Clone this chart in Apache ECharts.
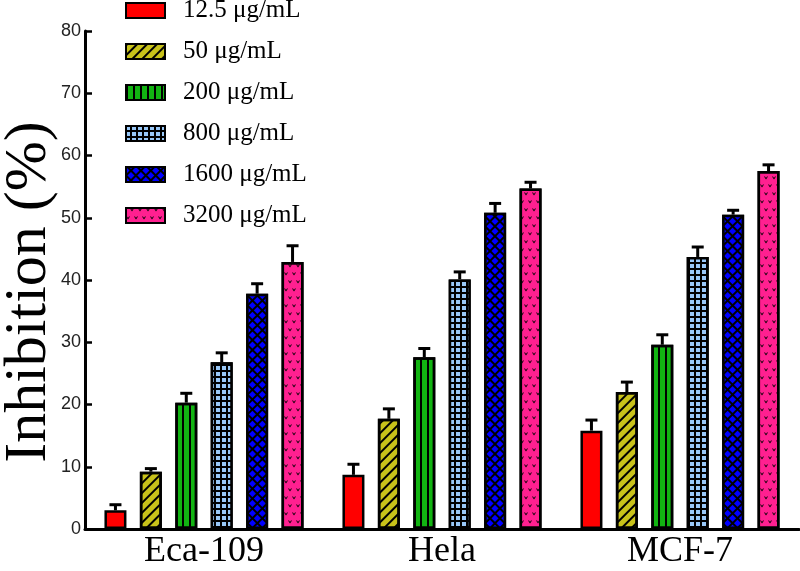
<!DOCTYPE html>
<html>
<head>
<meta charset="utf-8">
<script src="https://cdn.jsdelivr.net/npm/echarts@6/dist/echarts.min.js"></script>
<style>html,body{margin:0;padding:0;background:#fff}#c{width:800px;height:571px}</style>
</head>
<body>
<div id="c"></div>
<script>
// ---- data ----
const categories = ['Eca-109', 'Hela', 'MCF-7'];
const seriesNames = ['12.5 μg/mL', '50 μg/mL', '200 μg/mL', '800 μg/mL', '1600 μg/mL', '3200 μg/mL'];
const v12_5 = [3.0, 8.7, 15.8];
const v50 = [9.2, 17.7, 22.0];
const v200 = [20.3, 27.6, 29.6];
const v800 = [26.8, 40.1, 43.7];
const v1600 = [37.8, 50.8, 50.5];
const v3200 = [42.9, 54.7, 57.5];
const e12_5 = [0.9, 1.7, 1.7];
const e50 = [0.5, 1.6, 1.6];
const e200 = [1.5, 1.4, 1.6];
const e800 = [1.5, 1.2, 1.6];
const e1600 = [1.6, 1.5, 0.7];
const e3200 = [2.6, 1.0, 1.0];
const yTicks = [0, 10, 20, 30, 40, 50, 60, 70, 80];

const values = [v12_5, v50, v200, v800, v1600, v3200];
const errors = [e12_5, e50, e200, e800, e1600, e3200];

// ---- styles ----
const BAR_W = 22;
const GAP_RATIO = 0.61;
const styles = [
  { color: '#ff0000' },
  { color: '#c8c21a', decal: { color: '#000', symbol: 'rect', dashArrayX: [1, 0], dashArrayY: [2, 5], rotation: -Math.PI / 4 } },
  { color: '#12b412', decal: { color: '#000', symbol: 'rect', dashArrayX: [2, 5], dashArrayY: [5, 0] } },
  { color: '#000000', decal: { color: '#99c8f8', symbol: 'rect', dashArrayX: [4, 1.6], dashArrayY: [4, 1.6] } },
  { color: '#000000', decal: { color: '#0000ff', symbol: 'rect', dashArrayX: [4.6, 1.3], dashArrayY: [4.6, 1.3], rotation: Math.PI / 4 } },
  { color: '#ff2090', decal: { color: '#000', symbol: 'path://M0,0L5,7L10,0L7.5,0L5,3.5L2.5,0Z', symbolSize: 1, dashArrayX: [[4, 4], [0, 4, 4, 0]], dashArrayY: [3.5, 3.5] } }
];

const barSeries = seriesNames.map((name, i) => ({
  name: name,
  type: 'bar',
  data: values[i],
  barWidth: BAR_W,
  barGap: (GAP_RATIO * 100) + '%',
  itemStyle: Object.assign({ borderColor: '#000', borderWidth: 2.5 }, styles[i])
}));

const errData = [];
values.forEach((arr, si) => arr.forEach((v, ci) => errData.push([ci, si, v, errors[si][ci]])));

const errSeries = {
  type: 'custom',
  z: 10,
  silent: true,
  encode: { x: 0, y: 2 },
  data: errData,
  renderItem: function (params, api) {
    const ci = api.value(0), si = api.value(1), v = api.value(2), e = api.value(3);
    const base = api.coord([ci, v]);
    const top = api.coord([ci, v + e]);
    const n = seriesNames.length;
    const gap = BAR_W * GAP_RATIO;
    const total = n * BAR_W + (n - 1) * gap;
    const x = base[0] - total / 2 + si * (BAR_W + gap) + BAR_W / 2;
    const st = { stroke: '#000', lineWidth: 3 };
    return {
      type: 'group',
      children: [
        { type: 'line', shape: { x1: x, y1: base[1], x2: x, y2: top[1] }, style: st },
        { type: 'line', shape: { x1: x - 6, y1: top[1], x2: x + 6, y2: top[1] }, style: st }
      ]
    };
  }
};

const chart = echarts.init(document.getElementById('c'));
chart.setOption({
  animation: false,
  backgroundColor: '#fff',
  grid: { left: 85, right: 1, top: 31, bottom: 42, containLabel: false, outerBoundsMode: 'none' },
  legend: {
    orient: 'vertical',
    left: 120,
    top: -7,
    itemWidth: 39,
    itemHeight: 15,
    itemGap: 16,
    icon: 'rect',
    data: seriesNames,
    textStyle: { fontFamily: 'Liberation Serif', fontSize: 25, color: '#000', padding: [0, 0, 0, 13] }
  },
  xAxis: {
    type: 'category',
    data: categories,
    axisLine: { lineStyle: { color: '#000', width: 3 } },
    axisTick: { alignWithLabel: true, inside: true, length: 10, lineStyle: { color: '#000', width: 2 } },
    axisLabel: { fontFamily: 'Liberation Serif', fontSize: 36, color: '#000', margin: 5 }
  },
  yAxis: {
    type: 'value',
    min: yTicks[0],
    max: yTicks[yTicks.length - 1],
    interval: yTicks[1] - yTicks[0],
    name: 'Inhibition (%)',
    nameLocation: 'middle',
    nameGap: 26,
    nameMoveOverlap: false,
    nameTextStyle: { fontFamily: 'Liberation Serif', fontSize: 60, color: '#000', padding: [0, 24, 0, 0] },
    axisLine: { show: true, lineStyle: { color: '#000', width: 3 } },
    axisTick: { show: true, inside: true, length: 7, lineStyle: { color: '#000', width: 2.5 } },
    splitLine: { show: false },
    axisLabel: { fontFamily: 'Liberation Sans', fontSize: 18, color: '#222', margin: 4 }
  },
  series: barSeries.concat([errSeries])
});
</script>
</body>
</html>
